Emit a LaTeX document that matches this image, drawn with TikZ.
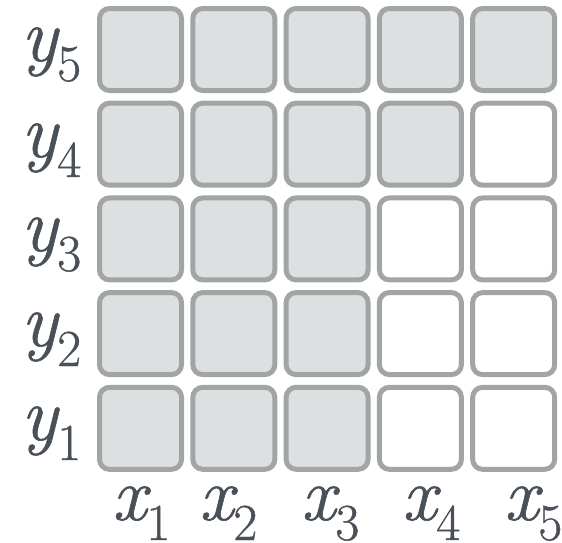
\documentclass[tikz,border=0pt]{standalone}
\usepackage{fontspec}
\newfontfamily\lblfont{Latin Modern Roman}[FakeBold=0.8]
\definecolor{cellborder}{HTML}{A2A5A5}
\definecolor{cellfill}{HTML}{DEDFE0}
\definecolor{labeltext}{HTML}{4A5057}
\newcommand{\lbl}[2]{{\lblfont\fontsize{76}{76}\selectfont\itshape #1}\raisebox{-20pt}{\lblfont\fontsize{52}{52}\selectfont #2}}
\tikzset{
  cell/.style={draw=cellborder, line width=5pt, rounded corners=10pt, minimum size=82pt, inner sep=0pt},
  on/.style={cell, fill=cellfill},
  off/.style={cell, fill=white},
  axlabel/.style={anchor=base west, inner sep=0pt, text=labeltext}
}
\begin{document}
\begin{tikzpicture}[x=1pt,y=-1pt]
\useasboundingbox (0,0) rectangle (562,542);
% rows: y5 (top) to y1 (bottom)
\foreach \r/\cy/\n in {5/49.5/5, 4/144.2/4, 3/238.9/3, 2/333.6/3, 1/428.3/3}{
  \foreach \c/\cx in {1/140.5, 2/233.8, 3/327.1, 4/420.4, 5/513.7}{
    \ifnum\c>\n
      \node[off] (c\c\r) at (\cx,\cy) {};
    \else
      \node[on] (c\c\r) at (\cx,\cy) {};
    \fi
  }
}
\node[axlabel] (ly5) at (21,61) {\lbl{y}{5}};
\node[axlabel] (ly4) at (21,157) {\lbl{y}{4}};
\node[axlabel] (ly3) at (21,251) {\lbl{y}{3}};
\node[axlabel] (ly2) at (21,346) {\lbl{y}{2}};
\node[axlabel] (ly1) at (21,440) {\lbl{y}{1}};
\node[axlabel] (lx1) at (112,520) {\lbl{x}{1}};
\node[axlabel] (lx2) at (199,520) {\lbl{x}{2}};
\node[axlabel] (lx3) at (301,520) {\lbl{x}{3}};
\node[axlabel] (lx4) at (402,520) {\lbl{x}{4}};
\node[axlabel] (lx5) at (504,520) {\lbl{x}{5}};
\end{tikzpicture}
\end{document}
